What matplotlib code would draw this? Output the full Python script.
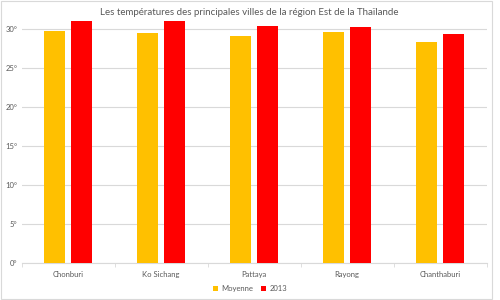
import numpy as np
import matplotlib
matplotlib.use("Agg")
import matplotlib.pyplot as plt
from matplotlib.patches import Rectangle

# Chart data
villes = ["Chonburi", "Ko Sichang", "Pattaya", "Rayong", "Chanthaburi"]
moyenne = [29.75, 29.5, 29.15, 29.7, 28.35]
annee_2013 = [31.05, 31.0, 30.4, 30.35, 29.4]
yticks = [0, 5, 10, 15, 20, 25, 30]

plt.rcParams['font.family'] = ['Lato', 'DejaVu Sans']


def main():
    fig = plt.figure(figsize=(5, 3), dpi=100)
    ax = fig.add_axes([0.0434, 0.1243, 0.93, 0.83])

    x = np.arange(len(villes))
    w = 0.225
    ax.bar(x - 0.145, moyenne, w, color="#FFC000", label="Moyenne", zorder=3)
    ax.bar(x + 0.145, annee_2013, w, color="#FF0000", label="2013", zorder=3)

    ax.set_xlim(-0.5, len(villes) - 0.5)
    ax.set_ylim(0, 32)
    ax.set_yticks(yticks)
    ax.set_yticklabels([f"{v}°" for v in yticks], fontsize=5.5, color="#595959")
    ax.yaxis.grid(True, color="#d9d9d9", linewidth=0.8, zorder=0)
    ax.tick_params(axis="y", length=0, pad=3)

    # category labels between tick marks, like Excel
    ax.set_xticks(x)
    ax.set_xticklabels(villes, fontsize=5.5, color="#595959")
    ax.set_xticks(np.arange(len(villes) + 1) - 0.5, minor=True)
    ax.tick_params(axis="x", which="major", length=0, pad=6)
    ax.tick_params(axis="x", which="minor", length=3, color="#d9d9d9")

    for s in ["top", "right", "left"]:
        ax.spines[s].set_visible(False)
    ax.spines["bottom"].set_color("#d9d9d9")

    fig.text(0.498, 0.958, "Les températures des principales villes de la région Est de la Thaïlande",
             ha="center", va="center", fontsize=7, color="#595959")

    fig.legend(loc="center", bbox_to_anchor=(0.5, 0.037), ncol=2, frameon=False,
               fontsize=5.5, handlelength=0.7, handleheight=0.7, columnspacing=1.0,
               handletextpad=0.4, labelcolor="#595959")

    # Excel chart border
    fig.patches.append(Rectangle((0.001, 0.003), 0.982, 0.994, transform=fig.transFigure,
                                 fill=False, edgecolor="#d9d9d9", linewidth=0.8))

    fig.savefig("out.png", dpi=100)


if __name__ == "__main__":
    main()
